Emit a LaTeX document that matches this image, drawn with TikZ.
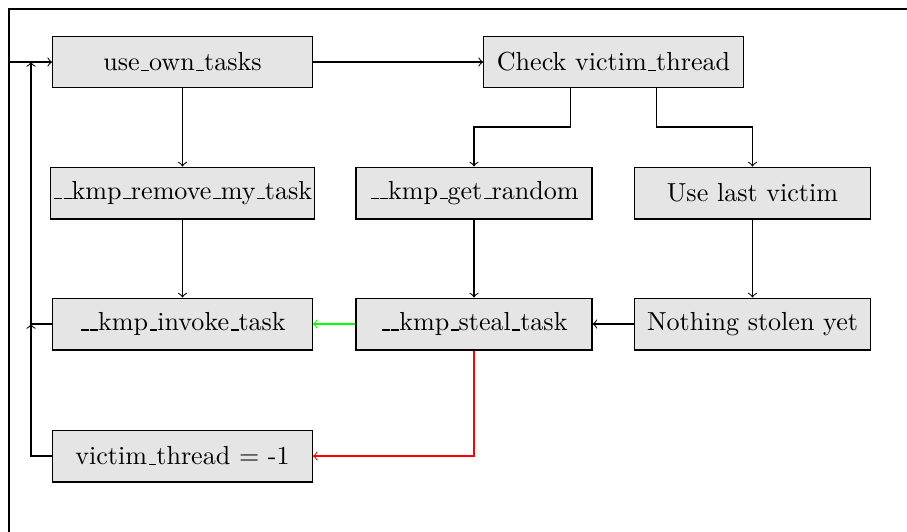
\documentclass[tikz,border=0pt]{standalone}
\usetikzlibrary{calc}
\newcommand\us{\leavevmode\kern.06em\vbox{\hrule width.3em}}
\begin{document}
\begin{tikzpicture}[x=0.3835pt,y=-0.3835pt,
  box/.style={draw, fill=black!10, minimum height=0.7cm, inner sep=1pt, font=\fontsize{10}{12}\selectfont},
  wbox/.style={box, minimum width=3.5cm},
  mbox/.style={box, minimum width=90.5pt},
  conn/.style={->}]
\useasboundingbox (0,0) rectangle (907,531);
% frame
\coordinate (fb) at (9,540);
\coordinate (ft) at (9,9);
\coordinate (fr) at (920,9);
\draw (fb) -- (ft) -- (fr);
% nodes
\node[wbox] (own) at (182.5,62) {use\us own\us tasks};
\node[wbox] (check) at (613.5,62) {Check victim\us thread};
\node[wbox] (remove) at (182.5,193) {\us\us kmp\us remove\us my\us task};
\node[mbox] (get) at (474,193) {\us\us kmp\us get\us random};
\node[mbox] (last) at (752.5,193) {Use last victim};
\node[wbox] (invoke) at (182.5,324) {\us\us kmp\us invoke\us task};
\node[mbox] (steal) at (474,324) {\us\us kmp\us steal\us task};
\node[mbox] (nothing) at (752.5,324) {Nothing stolen yet};
\node[wbox] (victim) at (182.5,456) {victim\us thread = -1};
% helper coordinates
\coordinate (c1) at ($(check.south west)!1/3!(check.south east)$);
\coordinate (c2) at ($(check.south west)!2/3!(check.south east)$);
\coordinate (mid) at (0,127);
\coordinate (j1) at (31,324);
\coordinate (j2) at (31,62);
\coordinate (fl) at (9,62);
% connectors
\draw[conn] (own) -- (check);
\draw[conn] (own) -- (remove);
\draw[conn] (remove) -- (invoke);
\draw[conn] (c1) -- (c1 |- mid) -- (get.north |- mid) -- (get.north);
\draw[conn] (c2) -- (c2 |- mid) -- (last.north |- mid) -- (last.north);
\draw[conn] (get) -- (steal);
\draw[conn] (last) -- (nothing);
\draw[conn] (nothing) -- (steal);
\draw[conn, green] (steal) -- (invoke);
\draw[conn, red] (steal.south) |- (victim.east);
\draw[conn] (victim.west) -| (j1);
\draw[conn] (invoke.west) -| (j2);
\draw[conn] (fl) -- (own.west);
\end{tikzpicture}
\end{document}
